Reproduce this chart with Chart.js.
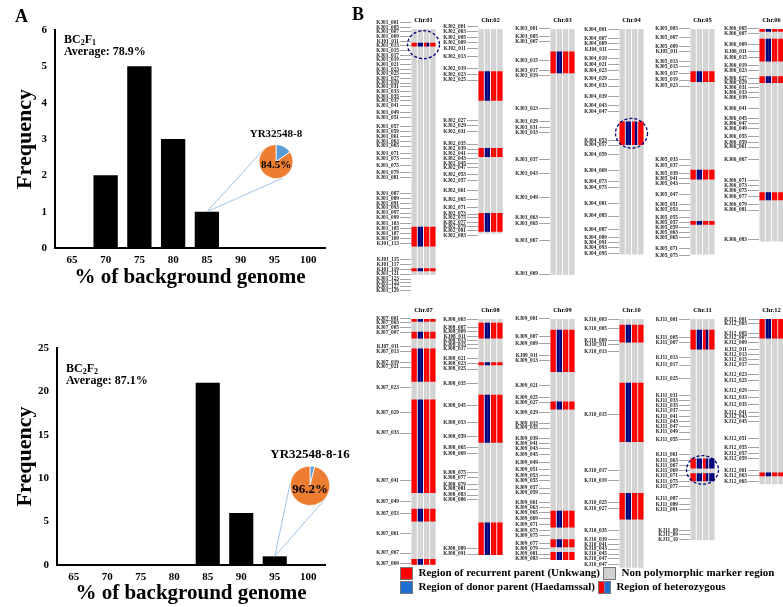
<!DOCTYPE html>
<html>
<head>
<meta charset="utf-8">
<script src="https://cdn.jsdelivr.net/npm/chart.js@4.4.1/dist/chart.umd.min.js"></script>
<style>
html, body { margin: 0; padding: 0; background: #fff; overflow: hidden; }
#page { position: relative; width: 783px; height: 607px; overflow: hidden; }
#page canvas { position: absolute; }
</style>
</head>
<body>
<div id="page"></div>
<script>
// ---- Panel A data ----
const bins = ['65', '70', '75', '80', '85', '90', '95', '100'];
const bc2f1Counts = [0, 2, 5, 3, 1, 0, 0, 0];
const bc2f2Counts = [0, 0, 0, 0, 21, 6, 1, 0];
const bc2f1Average = 'Average: 78.9%';
const bc2f2Average = 'Average: 87.1%';
const pieF1 = [15.5, 84.5];   // donor, recurrent
const pieF2 = [3.8, 96.2];
const pieF1Name = 'YR32548-8';
const pieF2Name = 'YR32548-8-16';

// ---- Panel B data (marker map positions) ----
const chromNames = ['Chr.01', 'Chr.02', 'Chr.03', 'Chr.04', 'Chr.05', 'Chr.06',
                    'Chr.07', 'Chr.08', 'Chr.09', 'Chr.10', 'Chr.11', 'Chr.12'];
const chromLengths = [250, 208, 250, 229, 229, 216, 250, 240, 245, 255, 225, 168];

const chr01Markers = ['KJ01_001','KJ01_005','KJ01_007','KJ01_009','KJ01_011','KJ01_013','KJ01_015','KJ01_017','KJ01_019','KJ01_021','KJ01_023','KJ01_025','KJ01_027','KJ01_029','KJ01_031','KJ01_033','KJ01_035','KJ01_037','KJ01_041','KJ01_049','KJ01_051','KJ01_057','KJ01_059','KJ01_061','KJ01_063','KJ01_065','KJ01_071','KJ01_073','KJ01_075','KJ01_079','KJ01_081','KJ01_087','KJ01_089','KJ01_091','KJ01_093','KJ01_097','KJ01_099','KJ01_103','KJ01_105','KJ01_107','KJ01_109','KJ01_113','KJ01_115','KJ01_117','KJ01_119','KJ01_121','KJ01_123','KJ01_125','KJ01_127','KJ01_129'];
const chr01Pos = [-6,-1,3,8,13,17,22,27,31,36,41,45,50,55,59,64,69,73,78,85,90,99,104,109,114,119,127,132,139,146,151,167,172,177,182,187,192,198,203,208,213,218,234,239,244,249,254,258,262,266];
const chr01Blocks = [[14, 18, 'RBHR', 'ring'], [201, 221, 'RBRR'], [243, 246, 'RBRR']];

const chr02Markers = ['KJ02_001','KJ02_003','KJ02_005','KJ02_009','KJ02_011','KJ02_013','KJ02_019','KJ02_023','KJ02_025','KJ02_027','KJ02_029','KJ02_031','KJ02_035','KJ02_039','KJ02_041','KJ02_043','KJ02_045','KJ02_047','KJ02_053','KJ02_057','KJ02_061','KJ02_065','KJ02_071','KJ02_073','KJ02_075','KJ02_077','KJ02_079','KJ02_081','KJ02_083'];
const chr02Pos = [-2,3,9,14,20,28,40,46,52,93,98,104,117,122,127,132,137,141,148,154,164,173,181,188,192,197,201,205,210];
const chr02Blocks = [[43, 73, 'RBRR'], [121, 130, 'RBRR'], [187, 206, 'RBRR']];

const chr03Markers = ['KJ03_001','KJ03_005','KJ03_007','KJ03_015','KJ03_017','KJ03_019','KJ03_023','KJ03_029','KJ03_031','KJ03_033','KJ03_037','KJ03_043','KJ03_049','KJ03_063','KJ03_065','KJ03_067','KJ03_069'];
const chr03Pos = [0,8,13,32,42,47,81,94,100,105,133,147,171,192,198,215,249];
const chr03Blocks = [[23, 45, 'RBRR']];

const chr04Markers = ['KJ04_001','KJ04_007','KJ04_009','KJ04_011','KJ04_019','KJ04_021','KJ04_023','KJ04_029','KJ04_033','KJ04_039','KJ04_043','KJ04_047','KJ04_053','KJ04_057','KJ04_059','KJ04_069','KJ04_073','KJ04_075','KJ04_081','KJ04_085','KJ04_087','KJ04_089','KJ04_091','KJ04_093','KJ04_095'];
const chr04Pos = [1,10,15,21,30,36,42,51,58,69,78,84,113,118,128,144,155,161,177,190,204,212,217,222,228];
const chr04Blocks = [[94, 118, 'RBHR', 'ring']];

const chr05Markers = ['KJ05_003','KJ05_007','KJ05_009','KJ05_011','KJ05_013','KJ05_015','KJ05_017','KJ05_019','KJ05_023','KJ05_033','KJ05_037','KJ05_039','KJ05_041','KJ05_043','KJ05_047','KJ05_051','KJ05_053','KJ05_055','KJ05_057','KJ05_059','KJ05_063','KJ05_065','KJ05_071','KJ05_075'];
const chr05Pos = [0,9,18,23,33,38,45,52,58,133,139,147,152,157,168,178,184,192,197,202,207,212,223,230];
const chr05Blocks = [[43, 54, 'RBRR'], [143, 153, 'RBRR'], [195, 199, 'RBRR']];

const chr06Markers = ['KJ06_005','KJ06_007','KJ06_009','KJ06_011','KJ06_015','KJ06_019','KJ06_023','KJ06_027','KJ06_029','KJ06_031','KJ06_033','KJ06_039','KJ06_041','KJ06_045','KJ06_047','KJ06_049','KJ06_055','KJ06_059','KJ06_061','KJ06_067','KJ06_071','KJ06_073','KJ06_075','KJ06_077','KJ06_079','KJ06_081','KJ06_083'];
const chr06Pos = [0,5,16,23,29,37,42,50,55,60,65,70,81,91,96,101,109,115,120,133,154,159,164,170,178,184,214];
const chr06Blocks = [[0, 3, 'RBRR'], [10, 33, 'RBRR'], [48, 55, 'RBRR'], [166, 174, 'RBRR']];

const chr07Markers = ['KJ07_001','KJ07_003','KJ07_005','KJ07_007','KJ07_011','KJ07_013','KJ07_019','KJ07_021','KJ07_023','KJ07_029','KJ07_033','KJ07_041','KJ07_049','KJ07_053','KJ07_061','KJ07_067','KJ07_069'];
const chr07Pos = [0,4,9,14,28,33,44,49,70,95,116,164,186,198,218,238,249];
const chr07Blocks = [[0, 3, 'RBRR'], [13, 20, 'RBRR'], [30, 64, 'RBRR'], [82, 177, 'RBRR'], [193, 206, 'RBRR'], [244, 250, 'RBRR']];

const chr08Markers = ['KJ08_003','KJ08_007','KJ08_009','KJ08_011','KJ08_013','KJ08_015','KJ08_017','KJ08_021','KJ08_023','KJ08_025','KJ08_035','KJ08_045','KJ08_053','KJ08_059','KJ08_065','KJ08_069','KJ08_075','KJ08_077','KJ08_079','KJ08_081','KJ08_083','KJ08_086','KJ08_089','KJ08_091'];
const chr08Pos = [1,9,13,18,22,26,30,40,45,51,66,88,105,120,131,137,156,161,168,173,179,184,233,239];
const chr08Blocks = [[4, 20, 'RBRR'], [44, 47, 'RBRR'], [77, 126, 'RBRR'], [207, 240, 'RBRR']];

const chr09Markers = ['KJ09_001','KJ09_007','KJ09_009','KJ09_011','KJ09_013','KJ09_021','KJ09_025','KJ09_027','KJ09_029','KJ09_033','KJ09_035','KJ09_039','KJ09_041','KJ09_043','KJ09_045','KJ09_049','KJ09_051','KJ09_053','KJ09_055','KJ09_057','KJ09_059','KJ09_061','KJ09_063','KJ09_065','KJ09_069','KJ09_071','KJ09_073','KJ09_075','KJ09_077','KJ09_079','KJ09_081','KJ09_083'];
const chr09Pos = [0,18,25,37,42,68,80,85,95,106,111,122,127,132,138,146,153,159,164,172,177,187,192,197,203,209,215,220,228,233,239,244];
const chr09Blocks = [[11, 54, 'RBRR'], [84, 92, 'RBRR'], [195, 212, 'RBRR'], [224, 232, 'RBRR'], [237, 245, 'RBRR']];

const chr10Markers = ['KJ10_003','KJ10_005','KJ10_009','KJ10_011','KJ10_013','KJ10_015','KJ10_017','KJ10_019','KJ10_025','KJ10_027','KJ10_035','KJ10_039','KJ10_041','KJ10_043','KJ10_045','KJ10_047','KJ10_047'];
const chr10Pos = [1,10,22,26,33,97,154,164,187,193,215,224,229,234,239,244,250];
const chr10Blocks = [[6, 24, 'RBRR'], [65, 125, 'RBRR'], [177, 204, 'RBRR']];

const chr11Markers = ['KJ11_001','KJ11_005','KJ11_007','KJ11_013','KJ11_017','KJ11_025','KJ11_031','KJ11_033','KJ11_035','KJ11_037','KJ11_041','KJ11_043','KJ11_047','KJ11_049','KJ11_055','KJ11_061','KJ11_063','KJ11_067','KJ11_069','KJ11_071','KJ11_075','KJ11_077','KJ11_087','KJ11_089','KJ11_091','KJ11_09','KJ11_09','KJ11_10'];
const chr11Pos = [1,19,24,39,47,61,78,83,88,93,99,104,109,115,123,138,144,149,154,159,165,170,183,189,194,215,219,224];
const chr11Blocks = [[11, 31, 'RBHR'], [142, 152, 'RBHB', 'ring'], [157, 165, 'RBHB', 'ring']];

const chr12Markers = ['KJ12_001','KJ12_003','KJ12_005','KJ12_007','KJ12_009','KJ12_011','KJ12_013','KJ12_015','KJ12_017','KJ12_023','KJ12_025','KJ12_029','KJ12_033','KJ12_035','KJ12_041','KJ12_043','KJ12_045','KJ12_051','KJ12_055','KJ12_057','KJ12_059','KJ12_061','KJ12_063','KJ12_065'];
const chr12Pos = [1,5,15,19,24,31,36,41,46,57,63,73,80,87,95,99,104,122,131,137,142,154,159,165];
const chr12Blocks = [[0, 20, 'RBRR'], [156, 160, 'RBRR']];

const lines = ['a', 'b', 'c', 'd'];
const legendTexts = ['Region of recurrent parent (Unkwang)', 'Non polymorphic marker region',
                     'Region of donor parent (Haedamssal)', 'Region of heterozygous'];

const chromMarkers = [chr01Markers, chr02Markers, chr03Markers, chr04Markers, chr05Markers, chr06Markers,
                      chr07Markers, chr08Markers, chr09Markers, chr10Markers, chr11Markers, chr12Markers];
const chromPos = [chr01Pos, chr02Pos, chr03Pos, chr04Pos, chr05Pos, chr06Pos,
                  chr07Pos, chr08Pos, chr09Pos, chr10Pos, chr11Pos, chr12Pos];
const chromBlocks = [chr01Blocks, chr02Blocks, chr03Blocks, chr04Blocks, chr05Blocks, chr06Blocks,
                     chr07Blocks, chr08Blocks, chr09Blocks, chr10Blocks, chr11Blocks, chr12Blocks];

// ---- styling ----
const SERIF = "'Liberation Serif', 'Times New Roman', serif";
const RED = '#ff0000', NAVY = '#00007a', GREY = '#d3d3d3';
const LEG_BLUE = '#1f6fd0', PIE_BLUE = '#5b9bd5', PIE_ORANGE = '#ed7d31';

Chart.defaults.font.family = SERIF;
Chart.defaults.color = '#000';
Chart.defaults.animation = false;
Chart.defaults.responsive = false;
Chart.defaults.devicePixelRatio = 1;
Chart.defaults.plugins.tooltip.enabled = false;

const page = document.getElementById('page');
function makeCanvas(left, top, w, h) {
    const c = document.createElement('canvas');
    c.width = w; c.height = h;
    c.style.left = left + 'px'; c.style.top = top + 'px';
    c.style.width = w + 'px'; c.style.height = h + 'px';
    page.appendChild(c);
    return c;
}

// text notes, panel letters and pointer lines for the histograms
const notesPlugin = {
    id: 'notes',
    afterDraw(chart, args, o) {
        const ctx = chart.ctx, a = chart.chartArea;
        ctx.save();
        ctx.fillStyle = '#000';
        ctx.textBaseline = 'middle';
        (o.letters || []).forEach(l => {
            ctx.font = 'bold 18px ' + SERIF;
            ctx.fillText(l[0], l[1], l[2]);
        });
        // generation label, digits as subscripts
        let x = a.left + 9;
        const y = a.top + o.textDy;
        for (const ch of o.gen) {
            const sub = /\d/.test(ch);
            ctx.font = 'bold ' + (sub ? 8 : 12) + 'px ' + SERIF;
            ctx.fillText(ch, x, sub ? y + 3 : y);
            x += ctx.measureText(ch).width;
        }
        ctx.font = 'bold 12px ' + SERIF;
        ctx.fillText(o.avg, a.left + 9, y + 12);
        // tangent lines from the bar top to the pie
        const bar = chart.getDatasetMeta(0).data[o.index];
        const p = o.pie;
        const dx = p.cx - bar.x, dy = p.cy - bar.y;
        const d = Math.hypot(dx, dy);
        const th = Math.atan2(dy, dx), al = Math.asin(p.r / d), len = Math.sqrt(d * d - p.r * p.r);
        ctx.strokeStyle = '#9dc3e6';
        ctx.lineWidth = 1;
        [th - al, th + al].forEach(ang => {
            ctx.beginPath();
            ctx.moveTo(bar.x, bar.y);
            ctx.lineTo(bar.x + len * Math.cos(ang), bar.y + len * Math.sin(ang));
            ctx.stroke();
        });
        ctx.restore();
    }
};

function histogram(canvas, counts, cfg) {
    return new Chart(canvas, {
        type: 'bar',
        data: {
            labels: bins,
            datasets: [{ data: counts, backgroundColor: '#000', barPercentage: 0.72, categoryPercentage: 1 }]
        },
        options: {
            layout: { autoPadding: false, padding: { top: cfg.padTop, right: 45, left: 0, bottom: 0 } },
            plugins: {
                legend: { display: false },
                notes: { gen: cfg.gen, avg: cfg.avg, textDy: cfg.textDy, index: cfg.index, pie: cfg.pie, letters: cfg.letters }
            },
            scales: {
                x: {
                    grid: { display: false, drawTicks: false },
                    border: { color: '#000', width: 2 },
                    ticks: { font: { size: 11, weight: 'bold' }, color: '#000', padding: 6 },
                    title: { display: true, text: '% of background genome', color: '#000',
                             font: { size: 21, weight: 'bold' }, padding: { top: 0, bottom: cfg.titleBottom } },
                    afterFit: s => { s.height = cfg.xH; }
                },
                y: {
                    min: 0, max: cfg.yMax,
                    grid: { display: false, drawTicks: false },
                    border: { color: '#000', width: 2 },
                    ticks: { stepSize: cfg.step, font: { size: 11, weight: 'bold' }, color: '#000', padding: 8 },
                    title: { display: true, text: 'Frequency', color: '#000',
                             font: { size: 22, weight: 'bold' }, padding: { top: 12, bottom: 0 } },
                    afterFit: s => { s.width = cfg.yW; }
                }
            }
        },
        plugins: [notesPlugin]
    });
}

const pieLabelPlugin = {
    id: 'pieLabel',
    afterDraw(chart, args, o) {
        const arc = chart.getDatasetMeta(0).data[0];
        const ctx = chart.ctx;
        ctx.save();
        ctx.font = 'bold ' + o.size + 'px ' + SERIF;
        ctx.fillStyle = '#000';
        ctx.textAlign = 'center';
        ctx.textBaseline = 'middle';
        ctx.fillText(o.text, arc.x, arc.y + o.dy);
        ctx.restore();
    }
};

function pie(canvas, values, name, size) {
    return new Chart(canvas, {
        type: 'pie',
        data: {
            labels: ['Donor parent', 'Recurrent parent'],
            datasets: [{ data: values, backgroundColor: [PIE_BLUE, PIE_ORANGE], borderColor: '#fff', borderWidth: 0.8 }]
        },
        options: {
            layout: { padding: 0 },
            plugins: {
                legend: { display: false },
                title: { display: true, text: name, color: '#000', font: { size: size, weight: 'bold' }, padding: { top: 0, bottom: 3 } },
                pieLabel: { text: values[1].toFixed(1) + '%', size: size, dy: 4 }
            }
        },
        plugins: [pieLabelPlugin]
    });
}

histogram(makeCanvas(0, 0, 370, 295), bc2f1Counts, {
    padTop: 30, xH: 47, yW: 55, yMax: 6, step: 1, titleBottom: 5, textDy: 10,
    gen: 'BC2F1', avg: bc2f1Average, index: 4, pie: { cx: 276, cy: 162, r: 17.5 },
    letters: [['A', 15, 17], ['B', 352, 15]]
});
histogram(makeCanvas(0, 300, 370, 307), bc2f2Counts, {
    padTop: 48, xH: 42, yW: 57, yMax: 25, step: 5, titleBottom: 1, textDy: 21,
    gen: 'BC2F2', avg: bc2f2Average, index: 6, pie: { cx: 310, cy: 186, r: 20 },
    letters: []
});
pie(makeCanvas(236, 128, 80, 51), pieF1, pieF1Name, 11);
pie(makeCanvas(260, 447, 100, 59), pieF2, pieF2Name, 13);

// ---- Panel B: graphical genotypes ----
const ringPlugin = {
    id: 'ring',
    afterDraw(chart, args, o) {
        if (!o.span) return;
        const y = chart.scales.y, a = chart.chartArea, ctx = chart.ctx;
        const cy = (y.getPixelForValue(o.span[0]) + y.getPixelForValue(o.span[1])) / 2;
        const ry = Math.max(14, (y.getPixelForValue(o.span[1]) - y.getPixelForValue(o.span[0])) / 2 + 3);
        ctx.save();
        ctx.strokeStyle = NAVY;
        ctx.lineWidth = 1.3;
        ctx.setLineDash([3, 2]);
        ctx.beginPath();
        ctx.ellipse((a.left + a.right) / 2, cy, 16, ry, 0, 0, Math.PI * 2);
        ctx.stroke();
        ctx.restore();
    }
};

const halfColour = { L: { R: RED, B: NAVY, H: RED }, R: { R: RED, B: NAVY, H: NAVY } };
const LABEL_W = 52;

function chromosome(i, left, top, range) {
    const len = chromLengths[i], markers = chromMarkers[i], pos = chromPos[i], blocks = chromBlocks[i];
    const rows = markers.length;
    const bounds = [];
    for (let r = 1; r < rows; r++) bounds.push(len * r / rows);
    const datasets = [];
    ['L', 'R'].forEach(side => datasets.push({
        data: lines.map(() => [0, len]), backgroundColor: GREY, stack: side, order: 5
    }));
    blocks.forEach(b => {
        ['L', 'R'].forEach(side => datasets.push({
            data: lines.map(() => [b[0], b[1]]),
            backgroundColor: b[2].split('').map(g => halfColour[side][g]),
            stack: side, order: 1
        }));
    });
    const ringed = blocks.filter(b => b[3] === 'ring');
    const span = ringed.length ? [Math.min(...ringed.map(b => b[0])), Math.max(...ringed.map(b => b[1]))] : null;
    const h = 14 + range[1] - range[0];
    return new Chart(makeCanvas(left - LABEL_W, top, LABEL_W + 25 + 6, h), {
        type: 'bar',
        data: { labels: lines, datasets: datasets },
        options: {
            layout: { autoPadding: false, padding: { top: 0, right: 6, left: 0, bottom: 0 } },
            datasets: { bar: { barPercentage: 1.08, categoryPercentage: 0.82, borderWidth: 0 } },
            plugins: { legend: { display: false }, ring: { span: span } },
            scales: {
                x: {
                    position: 'top',
                    grid: { display: false, drawTicks: false },
                    border: { display: false },
                    ticks: { font: { size: 6, weight: 'bold' }, color: '#000', padding: -7, maxRotation: 0, autoSkip: false },
                    title: { display: true, text: chromNames[i], color: '#000', font: { size: 6.5, weight: 'bold' }, padding: { top: 8, bottom: 0 } },
                    afterFit: s => { s.height = 14; }
                },
                y: {
                    type: 'linear', position: 'left', reverse: true, stacked: false,
                    min: range[0], max: range[1], z: 1,
                    ticks: { display: false },
                    border: { display: false },
                    grid: { color: '#fff', lineWidth: 1, drawTicks: false },
                    afterBuildTicks: s => { s.ticks = bounds.map(v => ({ value: v })); },
                    afterFit: s => { s.width = 0; }
                },
                yl: {
                    type: 'linear', position: 'left', reverse: true,
                    min: range[0], max: range[1],
                    ticks: { font: { size: 5.3, weight: 'bold' }, color: '#222', padding: 1, autoSkip: false,
                             callback: (v, k) => markers[k] },
                    grid: { drawOnChartArea: false, drawTicks: true, tickLength: 11, color: '#666', lineWidth: 0.6 },
                    border: { display: false },
                    afterBuildTicks: s => { s.ticks = pos.map(v => ({ value: v })); },
                    afterFit: s => { s.width = LABEL_W; }
                }
            }
        },
        plugins: [ringPlugin]
    });
}

const gridX = [411, 478, 550, 619, 690, 759];
for (let i = 0; i < 6; i++) chromosome(i, gridX[i], 8, [-7, 268]);
for (let i = 6; i < 12; i++) chromosome(i, gridX[i - 6], 298, [-7, 253]);

// ---- legend ----
function swatch(colours) {
    const c = document.createElement('canvas');
    c.width = 13; c.height = 13;
    const g = c.getContext('2d');
    const w = 13 / colours.length;
    colours.forEach((col, k) => { g.fillStyle = col; g.fillRect(k * w, 0, w, 13); });
    g.strokeStyle = '#777'; g.lineWidth = 1; g.strokeRect(0.5, 0.5, 12, 12);
    return c;
}
const legendSwatches = [swatch([RED]), swatch(['#d0d0d0']), swatch([LEG_BLUE]), swatch([RED, LEG_BLUE])];

new Chart(makeCanvas(397, 565, 440, 90), {
    type: 'bar',
    data: { labels: [], datasets: [] },
    options: {
        layout: { padding: 0 },
        scales: { x: { display: false }, y: { display: false } },
        plugins: {
            legend: {
                align: 'start',
                labels: {
                    usePointStyle: true, pointStyleWidth: 13, padding: 3,
                    font: { size: 11, weight: 'bold' }, color: '#000',
                    generateLabels: () => legendTexts.map((t, k) => ({
                        text: t, pointStyle: legendSwatches[k], fillStyle: '#000', strokeStyle: '#000',
                        lineWidth: 0, hidden: false, datasetIndex: k, fontColor: '#000'
                    }))
                }
            }
        }
    }
});
</script>
</body>
</html>
